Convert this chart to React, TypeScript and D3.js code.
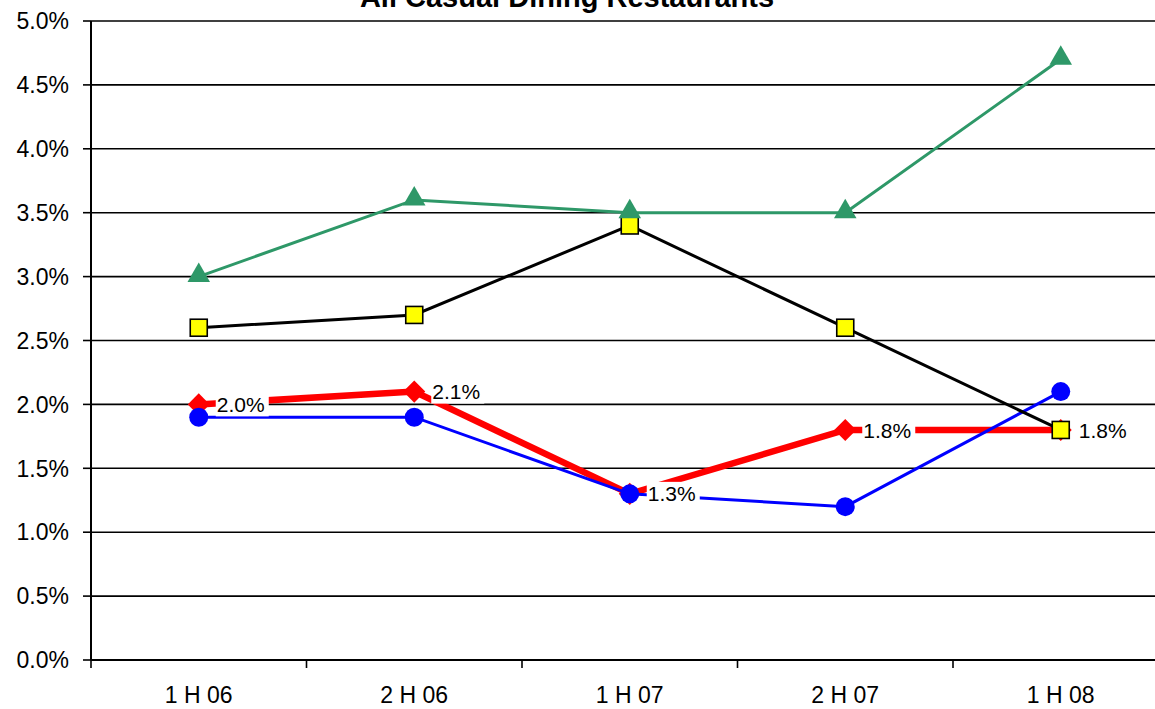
import React from "react";
import * as d3 from "d3";

const categories = ["1 H 06", "2 H 06", "1 H 07", "2 H 07", "1 H 08"];
const greenSeries = [0.030, 0.036, 0.035, 0.035, 0.047];
const blackSeries = [0.026, 0.027, 0.034, 0.026, 0.018];
const redSeries = [0.020, 0.021, 0.013, 0.018, 0.018];
const blueSeries = [0.019, 0.019, 0.013, 0.012, 0.021];
const yTicks = [0, 0.005, 0.01, 0.015, 0.02, 0.025, 0.03, 0.035, 0.04, 0.045, 0.05];
const title = "All Casual Dining Restaurants";

const W = 1155;
const H = 709;
const left = 91;
const right = 1168.5;
const top = 21;
const bottom = 660;
const FONT = "Arial, 'Liberation Sans', sans-serif";

export default function App() {
  const x = d3.scaleBand<string>().domain(categories).range([left, right]).padding(0);
  const y = d3.scaleLinear().domain([0, 0.05]).range([bottom, top]);
  const cx = (i: number) => (x(categories[i]) as number) + x.bandwidth() / 2;
  const fmt = d3.format(".1%");
  const line = d3
    .line<number>()
    .x((_, i) => cx(i))
    .y((d) => y(d));

  const boundaries = categories.map((c) => x(c) as number).concat([right]);
  const diamond = d3.symbol().type(d3.symbolDiamond2).size(310)() as string;
  const triangle = d3.symbol().type(d3.symbolTriangle).size(220)() as string;

  return (
    <div style={{ position: "absolute", left: 0, top: 0 }}>
      <svg width={W} height={H} style={{ display: "block", background: "#fff" }}>
        <text
          x={567}
          y={7}
          textAnchor="middle"
          fontFamily={FONT}
          fontWeight="bold"
          fontSize={29}
          fill="#000"
        >
          {title}
        </text>

        {/* horizontal gridlines and y ticks */}
        {yTicks.map((t) => (
          <g key={t}>
            {t > 0 && (
              <line x1={left} x2={right} y1={y(t)} y2={y(t)} stroke="#000" strokeWidth={1.6} />
            )}
            <line x1={83} x2={left} y1={y(t)} y2={y(t)} stroke="#000" strokeWidth={1.6} />
            <text
              x={69}
              y={y(t)}
              dy="0.36em"
              textAnchor="end"
              fontFamily={FONT}
              fontSize={23}
              fill="#000"
            >
              {fmt(t)}
            </text>
          </g>
        ))}

        {/* axes */}
        <line x1={left} x2={left} y1={top} y2={bottom} stroke="#000" strokeWidth={2} />
        <line x1={left} x2={right} y1={bottom} y2={bottom} stroke="#000" strokeWidth={2} />
        {boundaries.map((b, i) => (
          <line key={i} x1={b} x2={b} y1={bottom} y2={668} stroke="#000" strokeWidth={1.6} />
        ))}
        {categories.map((c, i) => (
          <text
            key={c}
            x={cx(i)}
            y={703}
            textAnchor="middle"
            fontFamily={FONT}
            fontSize={23}
            fill="#000"
          >
            {c}
          </text>
        ))}

        {/* red series */}
        <path d={line(redSeries) as string} fill="none" stroke="#ff0000" strokeWidth={6.5} />
        {redSeries.map((v, i) => (
          <path key={i} d={diamond} transform={`translate(${cx(i)},${y(v)})`} fill="#ff0000" />
        ))}

        {/* blue series */}
        <path d={line(blueSeries) as string} fill="none" stroke="#0000ff" strokeWidth={3} />
        {blueSeries.map((v, i) => (
          <circle key={i} cx={cx(i)} cy={y(v)} r={9.5} fill="#0000ff" />
        ))}

        {/* black series with yellow squares */}
        <path d={line(blackSeries) as string} fill="none" stroke="#000" strokeWidth={3} />
        {blackSeries.map((v, i) => (
          <rect
            key={i}
            x={cx(i) - 8.5}
            y={y(v) - 8.5}
            width={17}
            height={17}
            fill="#ffff00"
            stroke="#000"
            strokeWidth={1.6}
          />
        ))}

        {/* green series */}
        <path d={line(greenSeries) as string} fill="none" stroke="#2e9868" strokeWidth={3} />
        {greenSeries.map((v, i) => (
          <path key={i} d={triangle} transform={`translate(${cx(i)},${y(v) - 1})`} fill="#2e9868" />
        ))}

        {/* value labels on the red series */}
        {redSeries.map((v, i) => (
          <g key={i}>
            <rect x={cx(i) + 17} y={y(v) - 12} width={53} height={24} fill="#fff" />
            <text
              x={cx(i) + 18}
              y={y(v)}
              dy="0.36em"
              fontFamily={FONT}
              fontSize={21}
              fill="#000"
            >
              {fmt(v)}
            </text>
          </g>
        ))}
      </svg>
    </div>
  );
}
